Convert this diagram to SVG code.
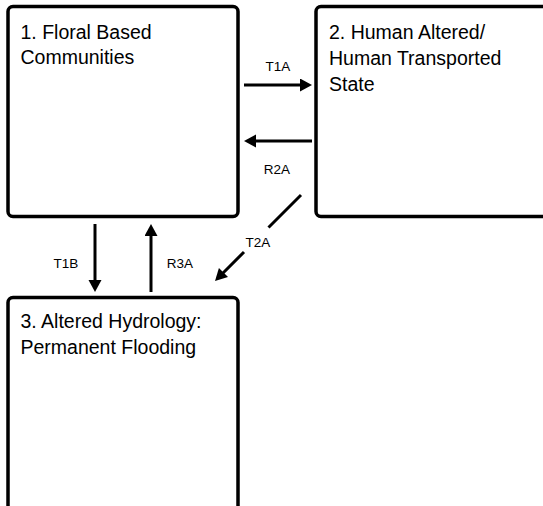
<svg xmlns="http://www.w3.org/2000/svg" width="543" height="506" viewBox="0 0 543 506">
  <defs>
    <style>
      .box { fill: #ffffff; stroke: #000000; stroke-width: 3.5; }
      .title { font-family: "Liberation Sans", Arial, sans-serif; font-size: 19.5px; fill: #000000; }
      .lbl { font-family: "Liberation Sans", Arial, sans-serif; font-size: 13.5px; fill: #000000; text-anchor: middle; }
      .conn { fill: none; stroke: #000000; stroke-width: 3; marker-end: url(#arrow); }
    </style>
    <marker id="arrow" markerUnits="userSpaceOnUse" markerWidth="13" markerHeight="14" refX="1" refY="6.5" orient="auto">
      <path d="M0,0 L12,6.5 L0,13 Z" fill="#000000"/>
    </marker>
  </defs>
  <rect width="543" height="506" fill="#ffffff"/>

  <g id="node1">
    <rect class="box" x="8" y="6.5" width="230" height="210" rx="5"/>
    <text class="title" x="20.5" y="38.5">1. Floral Based</text>
    <text class="title" x="20.5" y="64">Communities</text>
  </g>

  <g id="node2">
    <rect class="box" x="316" y="6.5" width="250" height="210" rx="5"/>
    <text class="title" x="329" y="38.5">2. Human Altered/</text>
    <text class="title" x="329" y="64.5">Human Transported</text>
    <text class="title" x="329" y="90.5">State</text>
  </g>

  <g id="node3">
    <rect class="box" x="8" y="297.5" width="230" height="260" rx="5"/>
    <text class="title" x="20.5" y="327.5">3. Altered Hydrology:</text>
    <text class="title" x="20.5" y="353.5">Permanent Flooding</text>
  </g>

  <g id="connectors">
    <path class="conn" d="M244,85 L301,85"/>
    <text class="lbl" x="278" y="71">T1A</text>
    <path class="conn" d="M312,141 L255,141"/>
    <text class="lbl" x="277" y="174">R2A</text>
    <path class="conn" d="M95,224 L95,281"/>
    <text class="lbl" x="66" y="268">T1B</text>
    <path class="conn" d="M151,292 L151,235"/>
    <text class="lbl" x="180" y="268">R3A</text>
    <path class="conn" d="M301,195 L268.5,227.5 M244,252 L222.8,273.2"/>
    <text class="lbl" x="258" y="247">T2A</text>
  </g>
</svg>
